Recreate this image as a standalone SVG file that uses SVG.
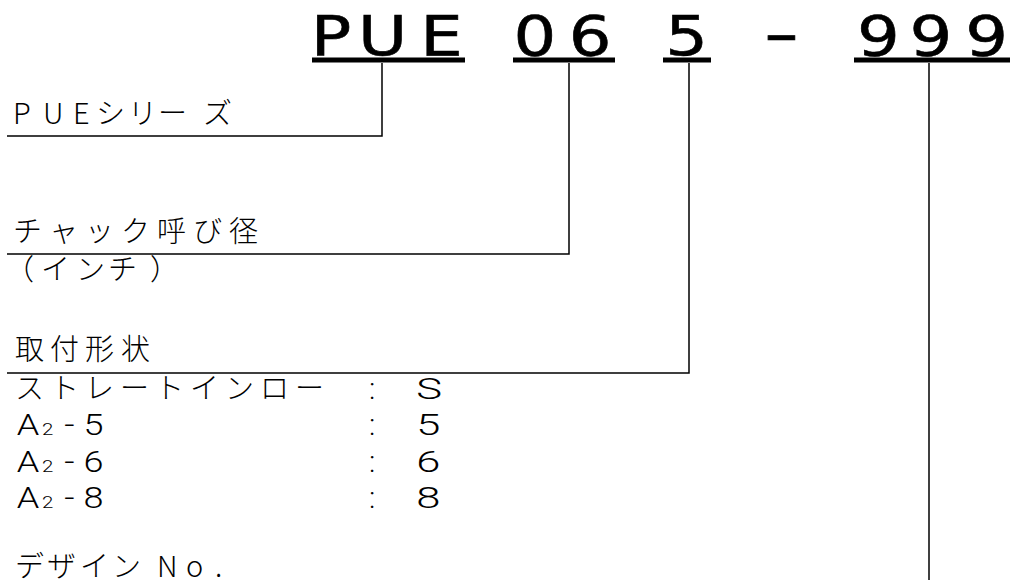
<svg xmlns="http://www.w3.org/2000/svg" width="1011" height="584" viewBox="0 0 1011 584">
<style>
.code{font-family:"DejaVu Sans","Liberation Sans",sans-serif;font-size:56px;fill:#000;stroke:#000;stroke-width:0.6;}
.lbl{font-family:"Noto Sans CJK JP","Liberation Sans",sans-serif;font-size:29px;font-weight:300;fill:#000;}
.lat{font-family:Roboto,"Liberation Sans",sans-serif;font-size:30px;font-weight:300;fill:#000;}
.sub{font-size:17px;}
.ul{fill:#000;}
.conn{fill:none;stroke:#000;stroke-width:1.5;}
</style>
<rect width="1011" height="584" fill="#fff"/>
<g id="code">
  <g transform="scale(1.2,1)">
    <text class="code" text-anchor="middle" x="275.8 318.75 367.9" y="55">PUE</text>
    <text class="code" text-anchor="middle" x="445.8 491.7" y="55">06</text>
    <text class="code" text-anchor="middle" x="572.1" y="55">5</text>
    <text class="code" text-anchor="middle" x="732.1 775.8 822.1" y="55">999</text>
  </g>
  <text class="code" text-anchor="middle" transform="translate(781.5,0) scale(1.8,1)" x="0" y="53">-</text>
  <rect class="ul" x="312" y="57.5" width="153" height="5"/>
  <rect class="ul" x="513" y="57.5" width="102" height="5"/>
  <rect class="ul" x="663" y="57.5" width="48" height="5"/>
  <rect class="ul" x="854" y="57.5" width="156" height="5"/>
</g>
<g id="connectors">
  <path class="conn" d="M382,63 V136 H7"/>
  <path class="conn" d="M569,63 V254 H7"/>
  <path class="conn" d="M689,63 V373 H7"/>
  <path class="conn" d="M929,63 V580"/>
</g>
<g id="node-series">
  <text class="lbl" x="13 43 73 96 128 158 203" y="124">PUEシリーズ</text>
</g>
<g id="node-chuck">
  <text class="lbl" x="13 49 85 121 157 193 229" y="242">チャック呼び径</text>
  <text class="lbl" x="5 41 76 108 150" y="280">（インチ）</text>
</g>
<g id="node-mount">
  <text class="lbl" x="15 50 85 121" y="360">取付形状</text>
  <text class="lbl" x="15 50 85 120 155 190 225 260 295" y="399">ストレートインロー</text>
  <g transform="scale(1.2,1)">
    <text class="lat" x="14" y="435">A<tspan class="sub" x="35">2</tspan><tspan x="53.5">-</tspan><tspan x="69.5">5</tspan></text>
    <text class="lat" x="14" y="472">A<tspan class="sub" x="35">2</tspan><tspan x="53.5">-</tspan><tspan x="69.5">6</tspan></text>
    <text class="lat" x="14" y="508">A<tspan class="sub" x="35">2</tspan><tspan x="53.5">-</tspan><tspan x="69.5">8</tspan></text>
  </g>
  <g transform="scale(1.45,1)">
    <text class="lat" x="287" y="399">S</text>
    <text class="lat" x="287" y="435">5</text>
    <text class="lat" x="287" y="472">6</text>
    <text class="lat" x="287" y="508">8</text>
  </g>
  <text class="lat" x="369" y="399">:</text>
  <text class="lat" x="369" y="435">:</text>
  <text class="lat" x="369" y="472">:</text>
  <text class="lat" x="369" y="508">:</text>
</g>
<g id="node-design">
  <text class="lbl" x="15 47 80 112 157 186 215" y="577">デザインNo.</text>
</g>
</svg>
